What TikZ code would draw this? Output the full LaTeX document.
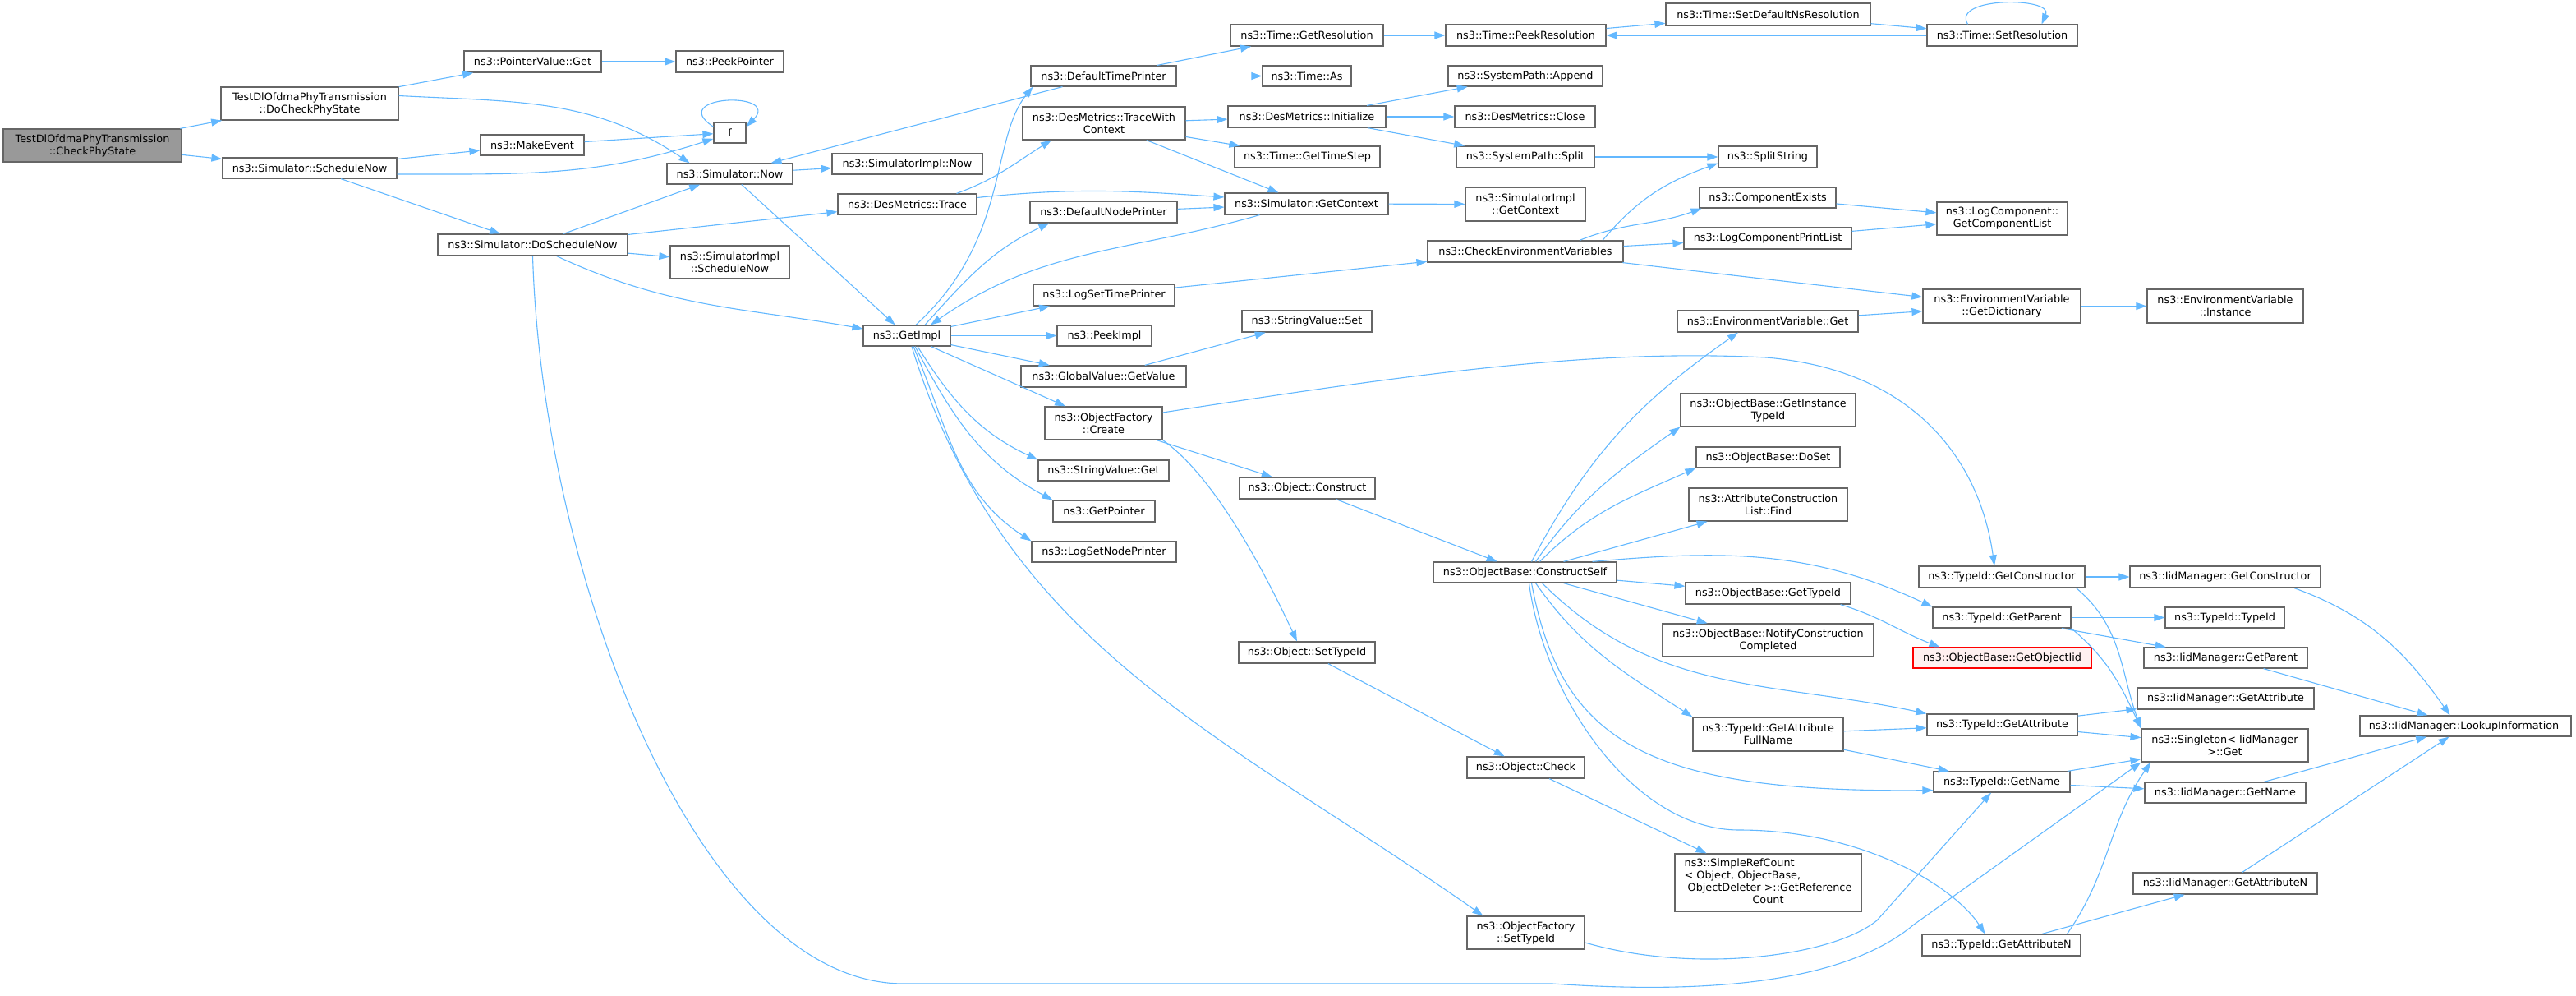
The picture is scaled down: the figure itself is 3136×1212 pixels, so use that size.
\documentclass[tikz,border=0pt]{standalone}
\usepackage{fontspec}
\setmainfont{DejaVu Sans}
\usetikzlibrary{arrows.meta}
\definecolor{edgeblue}{HTML}{63B8FF}
\definecolor{boxgray}{HTML}{666666}
\definecolor{rootgray}{HTML}{999999}
\definecolor{missred}{HTML}{FF0000}
\definecolor{missfill}{HTML}{FFF0F0}
\tikzset{
	fn/.style={draw=boxgray, fill=white, line width=1.2pt, inner sep=2pt, align=center,
		font=\fontsize{12.8}{15}\selectfont},
	rootfn/.style={fn, fill=rootgray},
	missfn/.style={fn, draw=missred, fill=missfill},
	call/.style={draw=edgeblue, line width=1.1pt, -{Triangle[length=13pt,width=9pt]}},
}
\begin{document}
\begin{tikzpicture}[x=1pt, y=-1pt]
		\useasboundingbox (0,0) rectangle (3136,1212);

		\node[rootfn, minimum width=217pt, minimum height=40pt] (root) at (112.5,177) {TestDlOfdmaPhyTransmission\\::CheckPhyState};
		\node[missfn, minimum width=217pt, minimum height=25pt] (goiid) at (2437.5,800.5) {ns3::ObjectBase::GetObjectIid};
		\node[fn, minimum width=227pt, minimum height=70pt] (src) at (2152.5,1074) {\begin{tabular}{@{}l@{}}ns3::SimpleRefCount\\< Object, ObjectBase,\\\ ObjectDeleter >::GetReference\\\multicolumn{1}{@{}c@{}}{Count}\end{tabular}};

		% name/left/top/right/bottom/label
		\foreach \nm/\xa/\ya/\xb/\yb/\lbl in {
			dochk/269/106/485/146/{TestDlOfdmaPhyTransmission\\::DoCheckPhyState},
			schnow/271/192/483/217/{ns3::Simulator::ScheduleNow},
			pvget/565/62/732/88/{ns3::PointerValue::Get},
			peekptr/823/62/954/88/{ns3::PeekPointer},
			mkev/585/164/711/189/{ns3::MakeEvent},
			f/869/149/908/174/{f},
			now/812/199/965/224/{ns3::Simulator::Now},
			simnow/1013/187/1196/212/{ns3::SimulatorImpl::Now},
			dosch/533/285/764/311/{ns3::Simulator::DoScheduleNow},
			simsch/816/299/961/339/{ns3::SimulatorImpl\\::ScheduleNow},
			dtrace/1020/236/1189/261/{ns3::DesMetrics::Trace},
			getimpl/1051/396/1157/421/{ns3::GetImpl},
			dtp/1255/80/1432/105/{ns3::DefaultTimePrinter},
			twc/1245/130/1443/170/{ns3::DesMetrics::TraceWith\\Context},
			dnp/1254/245/1433/271/{ns3::DefaultNodePrinter},
			lstp/1258/346/1430/372/{ns3::LogSetTimePrinter},
			peekimpl/1287/396/1402/421/{ns3::PeekImpl},
			gvget/1243/445/1444/471/{ns3::GlobalValue::GetValue},
			ofcreate/1272/495/1415/535/{ns3::ObjectFactory\\::Create},
			svget/1264/560/1423/585/{ns3::StringValue::Get},
			getptr/1282/609/1406/635/{ns3::GetPointer},
			lsnp/1256/659/1432/684/{ns3::LogSetNodePrinter},
			tgres/1498/30/1684/56/{ns3::Time::GetResolution},
			tas/1537/80/1645/105/{ns3::Time::As},
			dinit/1495/129/1687/155/{ns3::DesMetrics::Initialize},
			tstep/1503/178/1680/204/{ns3::Time::GetTimeStep},
			sgc/1491/235/1690/261/{ns3::Simulator::GetContext},
			svset/1512/378/1670/404/{ns3::StringValue::Set},
			cev/1738/293/1976/319/{ns3::CheckEnvironmentVariables},
			tpres/1760/30/1955/56/{ns3::Time::PeekResolution},
			spapp/1763/80/1951/105/{ns3::SystemPath::Append},
			dclose/1771/129/1942/155/{ns3::DesMetrics::Close},
			spsplit/1773/178/1941/204/{ns3::SystemPath::Split},
			sigc/1784/228/1930/269/{ns3::SimulatorImpl\\::GetContext},
			tsdns/2028/4/2277/31/{ns3::Time::SetDefaultNsResolution},
			tsres/2346/30/2529/56/{ns3::Time::SetResolution},
			splstr/2092/178/2212/204/{ns3::SplitString},
			compex/2069/228/2235/253/{ns3::ComponentExists},
			lcpl/2050/277/2254/303/{ns3::LogComponentPrintList},
			lcgcl/2358/246/2517/286/{ns3::LogComponent::\\GetComponentList},
			evget/2042/378/2262/404/{ns3::EnvironmentVariable::Get},
			evdict/2341/352/2533/393/{ns3::EnvironmentVariable\\::GetDictionary},
			evinst/2614/352/2804/393/{ns3::EnvironmentVariable\\::Instance},
			oconst/1509/581/1674/607/{ns3::Object::Construct},
			osettid/1508/781/1674/807/{ns3::Object::SetTypeId},
			ocheck/1786/921/1929/947/{ns3::Object::Check},
			ofsettid/1786/1115/1929/1155/{ns3::ObjectFactory\\::SetTypeId},
			cself/1745/684/1968/709/{ns3::ObjectBase::ConstructSelf},
			gitid/2046/479/2259/519/{ns3::ObjectBase::GetInstance\\TypeId},
			doset/2065/544/2240/569/{ns3::ObjectBase::DoSet},
			aclfind/2056/594/2249/634/{ns3::AttributeConstruction\\List::Find},
			gtid/2052/709/2253/735/{ns3::ObjectBase::GetTypeId},
			ncc/2024/759/2281/799/{ns3::ObjectBase::NotifyConstruction\\Completed},
			gafn/2061/873/2244/914/{ns3::TypeId::GetAttribute\\FullName},
			gctor/2336/689/2538/715/{ns3::TypeId::GetConstructor},
			gpar/2353/739/2521/764/{ns3::TypeId::GetParent},
			tgattr/2346/869/2529/895/{ns3::TypeId::GetAttribute},
			tgname/2354/939/2520/964/{ns3::TypeId::GetName},
			tgattrn/2340/1137/2533/1163/{ns3::TypeId::GetAttributeN},
			igctor/2593/689/2825/715/{ns3::IidManager::GetConstructor},
			ttid/2636/739/2781/764/{ns3::TypeId::TypeId},
			igpar/2610/788/2809/813/{ns3::IidManager::GetParent},
			igattr/2602/837/2817/863/{ns3::IidManager::GetAttribute},
			sing/2607/887/2810/927/{ns3::Singleton< IidManager\\ >::Get},
			igname/2611/952/2807/977/{ns3::IidManager::GetName},
			igattrn/2597/1062/2821/1088/{ns3::IidManager::GetAttributeN},
			lookup/2873/871/3130/896/{ns3::IidManager::LookupInformation}
		} {
			\node[fn, minimum width={(\xb-\xa)*1pt}, minimum height={(\yb-\ya)*1pt}]
				(\nm) at ({(\xa+\xb)/2},{(\ya+\yb)/2}) {\lbl};
		}

		\foreach \a/\b in {root/dochk, root/schnow, dochk/pvget, pvget/peekptr, schnow/mkev,
			schnow/dosch, mkev/f, dosch/now, dosch/dtrace, dosch/simsch, now/simnow, now/getimpl,
			dtp/now, dtp/tgres, dtp/tas, tgres/tpres, tpres/tsdns, tsdns/tsres, tsres/tpres,
			twc/dinit, twc/tstep, twc/sgc, dinit/spapp, dinit/dclose, dinit/spsplit, spsplit/splstr,
			dnp/sgc, sgc/sigc, getimpl/lstp, getimpl/peekimpl, getimpl/gvget, getimpl/ofcreate,
			lstp/cev, gvget/svset, cev/lcpl, cev/evdict, compex/lcgcl, lcpl/lcgcl, evget/evdict,
			evdict/evinst, ofcreate/oconst, oconst/cself, osettid/ocheck, ocheck/src, cself/aclfind,
			cself/gtid, cself/ncc, gafn/tgattr, gafn/tgname, gctor/igctor, gpar/ttid, gpar/igpar,
			tgattr/igattr, tgattr/sing, tgname/sing, tgname/igname, tgattrn/igattrn, igpar/lookup,
			igname/lookup, igattrn/lookup} {
			\draw[call] (\a) -- (\b);
		}

		\draw[call] (f.160) .. controls (810,116) and (952,110) .. (f.20);
		\draw[call] ([xshift=-42pt]tsres.north) .. controls (2375,-4) and (2500,-4) .. ([xshift=48pt]tsres.north);

		\draw[call] (dochk.5) to[out=-3, in=146] (now.165);
		\draw[call] (schnow.-4) to[out=0, in=198] (f.200);
		\draw[call] (dosch.-25) to[out=-25, in=170] (getimpl.171);
		\draw[call] (dosch.south) .. controls (660,700) and (850,1197) .. (1100,1197) -- (1890,1197)
			.. controls (2150,1215) and (2270,1175) .. (2330,1125) -- (sing.south west);

		\draw[call] ([xshift=11pt]getimpl.north) .. controls (1230,290) and (1205,170) .. ([xshift=3pt]dtp.south west);
		\draw[call] ([xshift=22pt]getimpl.north) to[out=48, in=205] ([xshift=24pt]dnp.south west);
		\draw[call] ([xshift=-57pt]sgc.south) to[out=196, in=35] ([xshift=29pt]getimpl.north);
		\draw[call] ([xshift=60pt]dtrace.north) to[out=20, in=212] ([xshift=-64pt]twc.south);
		\draw[call] ([yshift=8pt]dtrace.east) to[out=6, in=176] ([yshift=8pt]sgc.west);

		\draw[call] ([xshift=13pt]getimpl.south) to[out=-58, in=155] (svget.north west);
		\draw[call] ([xshift=10pt]getimpl.south) to[out=-62, in=152] (getptr.north west);
		\draw[call] ([xshift=8pt]getimpl.south) to[out=-67, in=147] (lsnp.north west);
		\draw[call] ([xshift=6pt]getimpl.south) to[out=-73, in=145] ([xshift=-52pt]ofsettid.north);

		\draw[call] ([yshift=13pt]ofcreate.east) .. controls (1750,450) and (1950,425) .. (2150,435)
			.. controls (2330,450) and (2410,560) .. ([xshift=-9pt]gctor.north);
		\draw[call] (ofcreate.south east) to[out=-35, in=115, looseness=0.7] ([xshift=-12pt]osettid.north);

		\draw[call] ([xshift=94pt]cev.north) to[out=50, in=200] ([yshift=6pt]splstr.south west);
		\draw[call] ([xshift=66pt]cev.north) to[out=22, in=200] ([xshift=3pt]compex.south west);

		\draw[call] ([xshift=8pt]cself.north) to[out=62, in=215] ([xshift=-36pt]evget.south);
		\draw[call] ([xshift=13pt]cself.north) to[out=55, in=215] (gitid.south west);
		\draw[call] ([xshift=18pt]cself.north) to[out=45, in=204] (doset.south west);
		\draw[call] ([xshift=82pt]cself.north) to[out=5, in=155] (gpar.north west);
		\draw[call] ([xshift=21pt]cself.south) to[out=-45, in=168] (tgattr.north west);
		\draw[call] ([xshift=13pt]cself.south) to[out=-55, in=147] (gafn.north west);
		\draw[call] ([xshift=8pt]cself.south) .. controls (1900,900) and (2000,965) .. ([yshift=3pt]tgname.south west);
		\draw[call] ([xshift=5pt]cself.south) .. controls (1880,850) and (1990,1010) .. (2117,1010)
			.. controls (2270,1010) and (2380,1080) .. ([xshift=-20pt]tgattrn.north);

		\draw[call] ([yshift=-12pt]ofsettid.east) .. controls (2060,1185) and (2230,1165) .. (2285,1120) -- ([xshift=-13pt]tgname.south);
		\draw[call] ([xshift=-13pt]gtid.south east) to[out=-17, in=159] ([xshift=-76pt]goiid.north);

		\draw[call] ([xshift=-11pt]gctor.south east) to[out=-40, in=110] (sing.north west);
		\draw[call] (gpar.south east) to[out=-40, in=115] (sing.north west);
		\draw[call] ([xshift=80pt]tgattrn.north) to[out=55, in=235] ([xshift=12pt]sing.south west);
		\draw[call] ([xshift=84pt]igctor.south) to[out=-20, in=125] ([xshift=-19pt]lookup.north);
	\end{tikzpicture}
\end{document}
